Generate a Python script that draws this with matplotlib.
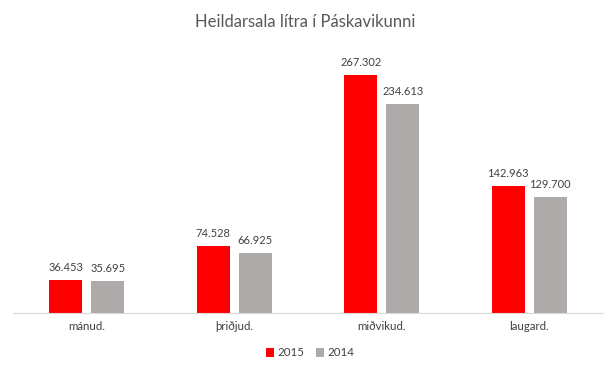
import matplotlib
matplotlib.use("Agg")
import matplotlib.pyplot as plt
import numpy as np

plt.rcParams['font.family'] = ['Lato', 'DejaVu Sans']

categories = ["mánud.", "þriðjud.", "miðvikud.", "laugard."]
s2015 = [36453, 74528, 267302, 142963]
s2014 = [35695, 66925, 234613, 129700]
labels2015 = ["36.453", "74.528", "267.302", "142.963"]
labels2014 = ["35.695", "66.925", "234.613", "129.700"]

fig = plt.figure(figsize=(6.11, 3.70), dpi=100)
ax = fig.add_axes([13/611, 1-312.5/370, 590/611, 266.5/370])

x = np.arange(len(categories))
w = 0.224
gap = 0.061
red = "#FF0000"
gray = "#AEAAAA"
b1 = ax.bar(x - (w+gap)/2, s2015, w, color=red, label="2015")
b2 = ax.bar(x + (w+gap)/2, s2014, w, color=gray, label="2014")

for bars, labs in ((b1, labels2015), (b2, labels2014)):
    for r, t in zip(bars, labs):
        ax.annotate(t, (r.get_x()+r.get_width()/2, r.get_height()), xytext=(0, 5),
                    textcoords="offset points", ha="center", va="bottom",
                    fontsize=8, color="#404040")

ax.set_xlim(-0.5, 3.5)
ax.set_ylim(0, 300000)
ax.set_xticks(x)
ax.set_xticklabels(categories, fontsize=8.3, color="#404040")
ax.tick_params(axis='x', length=0, pad=6)
ax.set_yticks([])
for s in ["top", "right", "left"]:
    ax.spines[s].set_visible(False)
ax.spines["bottom"].set_color("#D9D9D9")

fig.text(0.5, 1-22/370, "Heildarsala lítra í Páskavikunni", ha="center", va="center",
         fontsize=12, color="#595959")

fig.legend(handles=[b1, b2], labels=["2015", "2014"], loc="center",
           bbox_to_anchor=(310/611, 1-353/370), ncol=2, frameon=False,
           fontsize=8.3, labelcolor="#404040", handlelength=0.7, handleheight=0.7,
           handletextpad=0.3, columnspacing=1.0)

fig.savefig("out.png", dpi=100)
